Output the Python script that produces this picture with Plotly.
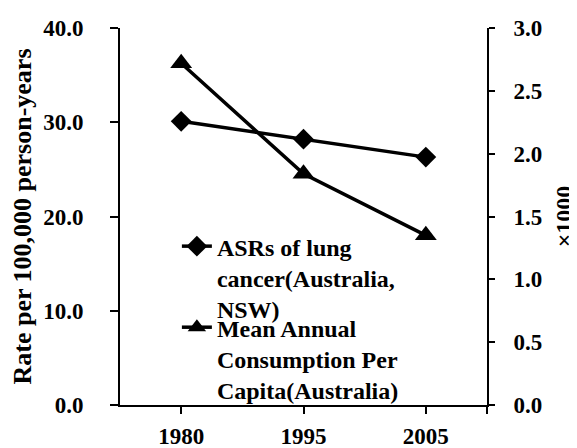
import plotly.graph_objects as go

years = ['1980', '1995', '2005']
asr_lung = [30.1, 28.2, 26.3]          # left axis, rate per 100,000
consumption = [2.72, 1.84, 1.35]       # right axis, x1000

font_family = 'Times New Roman, Liberation Serif, serif'
x_pos = list(range(len(years)))

fig = go.Figure()
fig.add_trace(go.Scatter(
    x=x_pos, y=asr_lung, mode='lines+markers',
    name='<b>ASRs of lung<br>cancer(Australia,<br>NSW)</b>',
    line=dict(color='black', width=3.5),
    marker=dict(symbol='diamond', size=16, color='black'),
    showlegend=True, legend='legend'))
fig.add_trace(go.Scatter(
    x=x_pos, y=consumption, mode='lines+markers', yaxis='y2',
    name='<b>Mean Annual<br>Consumption Per<br>Capita(Australia)</b>',
    line=dict(color='black', width=3.5),
    marker=dict(symbol='triangle-up', size=19, color='black'),
    showlegend=True, legend='legend2'))

tickfont = dict(family=font_family, size=23, color='black', weight='bold')
legfont = dict(family=font_family, size=24, color='black')

# page body has an 8px margin, so the margins are shifted by 8px
fig.update_layout(
    width=577, height=448,
    margin=dict(l=112, r=98, t=20, b=51),
    plot_bgcolor='white', paper_bgcolor='white',
    font=dict(family=font_family, color='black'),
    showlegend=True,
    xaxis=dict(range=[-0.5, 2.5], tickvals=[0, 1, 2, 2.5], ticktext=years + [''],
               showgrid=False, zeroline=False, showline=True, linecolor='black', linewidth=2,
               ticks='outside', ticklen=7, tickwidth=2, tickcolor='black',
               tickfont=tickfont, ticklabelstandoff=2, automargin=False),
    yaxis=dict(range=[0, 40], dtick=10, tickformat='.1f',
               showgrid=False, zeroline=False, showline=True, linecolor='black', linewidth=2,
               ticks='outside', ticklen=8, tickwidth=2, tickcolor='black',
               tickfont=tickfont, ticklabelstandoff=22, automargin=False,
               title=dict(text='<b>Rate per 100,000 person-years</b>',
                          font=dict(family=font_family, size=26, color='black'), standoff=8)),
    yaxis2=dict(range=[0, 3], dtick=0.5, tickformat='.1f', overlaying='y', side='right',
                showgrid=False, zeroline=False, showline=True, linecolor='black', linewidth=2,
                ticks='outside', ticklen=6, tickwidth=2, tickcolor='black',
                tickfont=tickfont, ticklabelstandoff=14, automargin=False,
                title=dict(text='<b>×1000</b>',
                           font=dict(family=font_family, size=24, color='black'), standoff=14)),
    legend=dict(x=0.155, y=0.48, xanchor='left', yanchor='top', bgcolor='rgba(0,0,0,0)',
                font=legfont, valign='top', itemwidth=30),
    legend2=dict(x=0.155, y=0.265, xanchor='left', yanchor='top', bgcolor='rgba(0,0,0,0)',
                 font=legfont, valign='top', itemwidth=30),
)

fig.write_html('out.html')
